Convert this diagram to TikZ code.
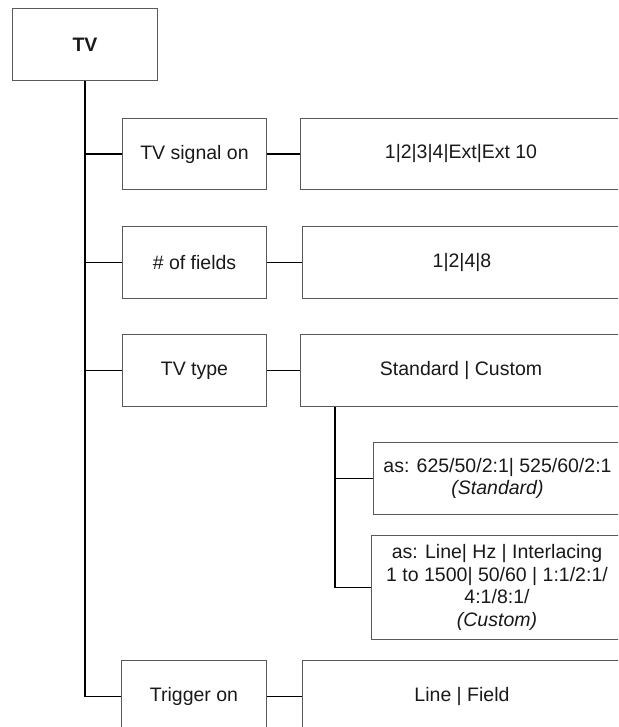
\documentclass[tikz,border=0pt]{standalone}
\usepackage{fontspec}
\setmainfont{Liberation Sans}
\begin{document}
\begin{tikzpicture}[x=1pt,y=-1pt,
  box/.style={draw=black!65,line width=1pt,rectangle,anchor=north west,inner sep=0pt,
    font=\fontsize{19.5}{22.5}\selectfont,align=center,text=black!90},
  conn/.style={draw=black,line width=1.4pt}]
\useasboundingbox (0,0) rectangle (618,727);
\clip (0,0) rectangle (618,727);
\node[box,minimum width=145pt,minimum height=72pt] (tv) at (12,8) {\textbf{TV}};
\node[box,minimum width=144pt,minimum height=71pt] (sig) at (122,118) {TV signal on};
\node[box,minimum width=321pt,minimum height=71pt] (sigv) at (300,118) {1|2|3|4|Ext|Ext 10};
\node[box,minimum width=144pt,minimum height=72pt] (nf) at (122,226) {\# of fields};
\node[box,minimum width=319pt,minimum height=72pt] (nfv) at (302,226) {1|2|4|8};
\node[box,minimum width=144pt,minimum height=72pt] (tt) at (122,334) {TV type};
\node[box,minimum width=321pt,minimum height=72pt] (ttv) at (300,334) {Standard | Custom};
\node[box,minimum width=248pt,minimum height=72pt] (std) at (373,442) {as: 625/50/2:1| 525/60/2:1\\\textit{(Standard)}};
\node[box,minimum width=251pt,minimum height=104pt] (cust) at (371,535) {as: Line| Hz | Interlacing\\1 to 1500| 50/60 | 1:1/2:1/\\4:1/8:1/\\\textit{(Custom)}};
\node[box,minimum width=145pt,minimum height=72pt] (trig) at (121,660) {Trigger on};
\node[box,minimum width=319pt,minimum height=72pt] (trigv) at (302,660) {Line | Field};
\coordinate (sj) at ([xshift=35pt]ttv.south west);
\draw[conn] (tv.south) |- (trig.west);
\draw[conn] (tv.south |- sig.west) -- (sig.west);
\draw[conn] (tv.south |- nf.west) -- (nf.west);
\draw[conn] (tv.south |- tt.west) -- (tt.west);
\draw[conn] (sig.east) -- (sigv.west);
\draw[conn] (nf.east) -- (nfv.west);
\draw[conn] (tt.east) -- (ttv.west);
\draw[conn] (trig.east) -- (trigv.west);
\draw[conn] (sj) |- (cust.west);
\draw[conn] (sj |- std.west) -- (std.west);
\end{tikzpicture}
\end{document}
